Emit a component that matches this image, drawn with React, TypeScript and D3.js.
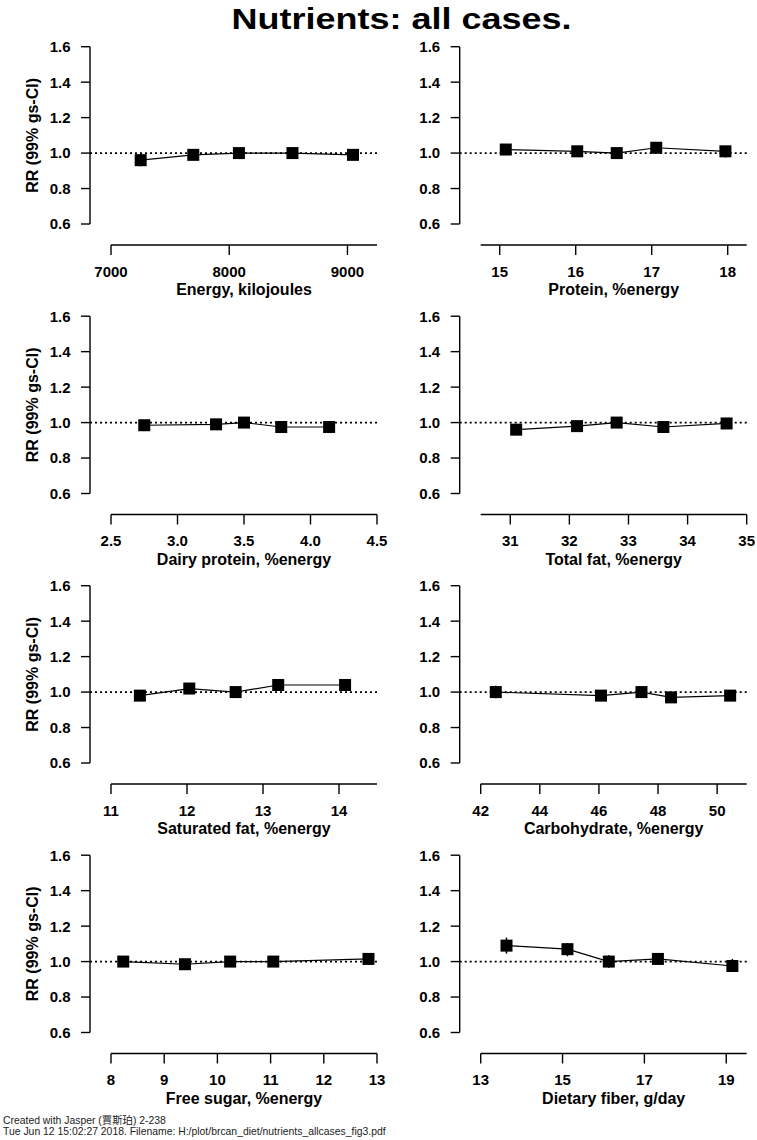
import React from "react";
import * as d3 from "d3";

// ---------- data ----------
const yTicks = [0.6, 0.8, 1.0, 1.2, 1.4, 1.6];

const energyX = [7251, 7696, 8082, 8535, 9047];
const energyRR = [0.96, 0.99, 1.0, 1.0, 0.99];
const energyLo = [0.925, 0.96, 0.975, 0.975, 0.96];
const energyHi = [0.995, 1.02, 1.025, 1.025, 1.02];
const energyTicks = [7000, 8000, 9000];

const proteinX = [15.08, 16.02, 16.54, 17.06, 17.97];
const proteinRR = [1.02, 1.01, 1.0, 1.03, 1.01];
const proteinLo = [0.99, 0.98, 0.975, 1.0, 0.975];
const proteinHi = [1.05, 1.04, 1.025, 1.06, 1.04];
const proteinTicks = [15, 16, 17, 18];

const dairyX = [2.75, 3.29, 3.5, 3.78, 4.14];
const dairyRR = [0.985, 0.99, 1.0, 0.975, 0.975];
const dairyLo = [0.96, 0.965, 0.975, 0.95, 0.95];
const dairyHi = [1.01, 1.015, 1.025, 1.0, 1.0];
const dairyTicks = [2.5, 3.0, 3.5, 4.0, 4.5];

const fatX = [31.1, 32.13, 32.8, 33.59, 34.66];
const fatRR = [0.96, 0.98, 1.0, 0.975, 0.995];
const fatLo = [0.935, 0.955, 0.975, 0.95, 0.97];
const fatHi = [0.985, 1.005, 1.025, 1.0, 1.02];
const fatTicks = [31, 32, 33, 34, 35];

const satX = [11.38, 12.03, 12.64, 13.2, 14.08];
const satRR = [0.98, 1.02, 1.0, 1.04, 1.04];
const satLo = [0.955, 0.995, 0.975, 1.01, 1.01];
const satHi = [1.005, 1.045, 1.025, 1.065, 1.065];
const satTicks = [11, 12, 13, 14];

const carbX = [42.51, 46.07, 47.44, 48.44, 50.44];
const carbRR = [1.0, 0.98, 1.0, 0.97, 0.98];
const carbLo = [0.965, 0.955, 0.975, 0.945, 0.95];
const carbHi = [1.035, 1.005, 1.025, 0.995, 1.01];
const carbTicks = [42, 44, 46, 48, 50];

const sugarX = [8.23, 9.39, 10.24, 11.05, 12.84];
const sugarRR = [1.0, 0.985, 1.0, 1.0, 1.015];
const sugarLo = [0.97, 0.96, 0.975, 0.975, 0.985];
const sugarHi = [1.03, 1.01, 1.025, 1.025, 1.045];
const sugarTicks = [8, 9, 10, 11, 12, 13];

const fiberX = [13.63, 15.12, 16.13, 17.33, 19.15];
const fiberRR = [1.09, 1.07, 1.0, 1.015, 0.975];
const fiberLo = [1.045, 1.03, 0.965, 0.985, 0.947];
const fiberHi = [1.135, 1.105, 1.035, 1.045, 1.015];
const fiberTicks = [13, 15, 17, 19];

const panelTitles = [
  "Energy, kilojoules",
  "Protein, %energy",
  "Dairy protein, %energy",
  "Total fat, %energy",
  "Saturated fat, %energy",
  "Carbohydrate, %energy",
  "Free sugar, %energy",
  "Dietary fiber, g/day",
];

const panels = [
  { title: panelTitles[0], x: energyX, rr: energyRR, lo: energyLo, hi: energyHi, ticks: energyTicks, dom: [7000, 9250], fmt: (v: number) => String(v) },
  { title: panelTitles[1], x: proteinX, rr: proteinRR, lo: proteinLo, hi: proteinHi, ticks: proteinTicks, dom: [14.75, 18.25], fmt: (v: number) => String(v) },
  { title: panelTitles[2], x: dairyX, rr: dairyRR, lo: dairyLo, hi: dairyHi, ticks: dairyTicks, dom: [2.5, 4.5], fmt: (v: number) => v.toFixed(1) },
  { title: panelTitles[3], x: fatX, rr: fatRR, lo: fatLo, hi: fatHi, ticks: fatTicks, dom: [30.5, 35], fmt: (v: number) => String(v) },
  { title: panelTitles[4], x: satX, rr: satRR, lo: satLo, hi: satHi, ticks: satTicks, dom: [11, 14.5], fmt: (v: number) => String(v) },
  { title: panelTitles[5], x: carbX, rr: carbRR, lo: carbLo, hi: carbHi, ticks: carbTicks, dom: [42, 51], fmt: (v: number) => String(v) },
  { title: panelTitles[6], x: sugarX, rr: sugarRR, lo: sugarLo, hi: sugarHi, ticks: sugarTicks, dom: [8, 13], fmt: (v: number) => String(v) },
  { title: panelTitles[7], x: fiberX, rr: fiberRR, lo: fiberLo, hi: fiberHi, ticks: fiberTicks, dom: [13, 19.5], fmt: (v: number) => String(v) },
];

// ---------- layout ----------
const W = 757;
const H = 1140;
const FONT = "'Liberation Sans', Arial, Helvetica, sans-serif";
const ROW_STEP = 269.5;
const COL_STEP = 369.7;

function Panel({ p, idx }: { p: (typeof panels)[number]; idx: number }) {
  const col = idx % 2;
  const row = Math.floor(idx / 2);
  const ox = col * COL_STEP;
  const oy = row * ROW_STEP;
  const yAxisX = 90;
  const x0 = 111;
  const x1 = 377;
  const yTop = 46.7;
  const yBot = 224;
  const xAxisY = 245;

  const xs = d3.scaleLinear().domain(p.dom).range([x0, x1]);
  const ys = d3.scaleLinear().domain([0.6, 1.6]).range([yBot, yTop]);
  const line = d3
    .line<number>()
    .x((_, i) => xs(p.x[i]))
    .y((d) => ys(d));
  const sq = 12;

  return (
    <g transform={`translate(${ox},${oy})`}>
      {/* y axis */}
      <line x1={yAxisX} x2={yAxisX} y1={ys(1.6)} y2={ys(0.6)} stroke="#000" strokeWidth={1.4} />
      {yTicks.map((t) => (
        <g key={t}>
          <line x1={yAxisX - 9} x2={yAxisX} y1={ys(t)} y2={ys(t)} stroke="#000" strokeWidth={1.4} />
          <text x={yAxisX - 19.5} y={ys(t)} dy="0.36em" textAnchor="end" fontFamily={FONT} fontWeight="bold" fontSize={15}>
            {t.toFixed(1)}
          </text>
        </g>
      ))}
      {col === 0 && (
        <text
          transform={`translate(32.5,${(yTop + yBot) / 2}) rotate(-90)`}
          dy="0.36em"
          textAnchor="middle"
          fontFamily={FONT}
          fontWeight="bold"
          fontSize={16}
        >
          RR (99% gs-CI)
        </text>
      )}
      {/* x axis */}
      <line x1={x0} x2={x1} y1={xAxisY} y2={xAxisY} stroke="#000" strokeWidth={1.4} />
      {p.ticks.map((t) => (
        <g key={t}>
          <line x1={xs(t)} x2={xs(t)} y1={xAxisY} y2={xAxisY + 10} stroke="#000" strokeWidth={1.4} />
          <text x={xs(t)} y={276.5} textAnchor="middle" fontFamily={FONT} fontWeight="bold" fontSize={15}>
            {p.fmt(t)}
          </text>
        </g>
      ))}
      <text x={(x0 + x1) / 2} y={295} textAnchor="middle" fontFamily={FONT} fontWeight="bold" fontSize={16}>
        {p.title}
      </text>
      {/* reference line */}
      <line x1={yAxisX} x2={x1} y1={ys(1)} y2={ys(1)} stroke="#000" strokeWidth={1.6} strokeDasharray="2,3" />
      {/* CI whiskers */}
      {p.x.map((xv, i) => (
        <line key={"ci" + i} x1={xs(xv)} x2={xs(xv)} y1={ys(p.lo[i])} y2={ys(p.hi[i])} stroke="#000" strokeWidth={1.5} />
      ))}
      {/* connecting line */}
      <path d={line(p.rr) || ""} fill="none" stroke="#000" strokeWidth={1.2} />
      {/* squares */}
      {p.x.map((xv, i) => (
        <rect key={"sq" + i} x={xs(xv) - sq / 2} y={ys(p.rr[i]) - sq / 2} width={sq} height={sq} fill="#000" />
      ))}
    </g>
  );
}

export default function App() {
  return (
    <svg
      width={W}
      height={H}
      viewBox={`0 0 ${W} ${H}`}
      style={{ position: "absolute", left: 0, top: 0, background: "#fff" }}
    >
      <rect x={0} y={0} width={W} height={H} fill="#fff" />
      <text
        transform="translate(401.5,28.5) scale(1.2,1)"
        textAnchor="middle"
        fontFamily={FONT}
        fontWeight="bold"
        fontSize={30}
      >
        Nutrients: all cases.
      </text>
      {panels.map((p, i) => (
        <Panel key={i} p={p} idx={i} />
      ))}
      <text x={3} y={1123.5} fontFamily={`${FONT}, 'Noto Sans CJK TC'`} fontSize={10.4} fill="#222">
        Created with Jasper (賈斯珀) 2-238
      </text>
      <text x={3} y={1134.5} fontFamily={FONT} fontSize={10.4} fill="#222">
        Tue Jun 12 15:02:27 2018. Filename: H:/plot/brcan_diet/nutrients_allcases_fig3.pdf
      </text>
    </svg>
  );
}
